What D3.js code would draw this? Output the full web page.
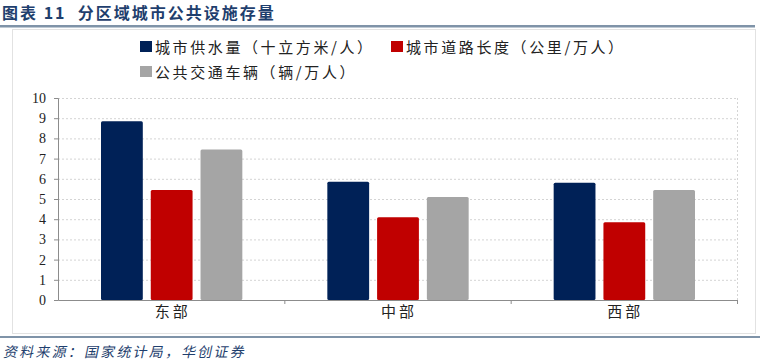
<!DOCTYPE html>
<html>
<head>
<meta charset="utf-8">
<script src="https://cdn.jsdelivr.net/npm/d3@7"></script>
<style>
body { margin: 0; background: #fff; }
svg { display: block; }
text { white-space: pre; }
</style>
</head>
<body>
<svg width="760" height="363"></svg>
<script>
const categories = ['东部', '中部', '西部'];
const seriesNames = ['城市供水量（十立方米/人）', '城市道路长度（公里/万人）', '公共交通车辆（辆/万人）'];
const water = [8.85, 5.85, 5.8];
const roads = [5.45, 4.1, 3.85];
const buses = [7.45, 5.1, 5.45];
const yTicks = [0, 1, 2, 3, 4, 5, 6, 7, 8, 9, 10];
const colors = ['#002157', '#c00000', '#a5a5a5'];

const series = [water, roads, buses];
const cjk = '"Noto Sans CJK SC", sans-serif';
const serif = '"Liberation Serif", "DejaVu Serif", serif';

const svg = d3.select('svg');

// title
svg.append('text')
	.attr('x', 2).attr('y', 19)
	.attr('font-family', cjk).attr('font-weight', 'bold')
	.attr('font-size', 16).attr('letter-spacing', 2).attr('fill', '#1f3f6e')
	.text('图表 11  分区域城市公共设施存量');
svg.append('rect').attr('x', 0).attr('y', 25).attr('width', 755).attr('height', 2.5).attr('fill', '#7f93a8');

// panel frame
svg.append('rect')
	.attr('x', 12.5).attr('y', 29.5).attr('width', 743).attr('height', 304)
	.attr('fill', 'none').attr('stroke', '#e2e2e2');

// footer
svg.append('rect').attr('x', 0).attr('y', 336).attr('width', 760).attr('height', 2).attr('fill', '#7f93a8');
svg.append('text')
	.attr('x', 3).attr('y', 357)
	.attr('font-family', cjk)
	.attr('font-size', 14).attr('letter-spacing', 2.2).attr('fill', '#1f3f6e')
	.attr('transform', 'skewX(-12) translate(76,0)')
	.text('资料来源：国家统计局，华创证券');

const margin = { left: 58, right: 23, top: 98, bottom: 63 };
const width = 760 - margin.left - margin.right;
const height = 363 - margin.top - margin.bottom;

const g = svg.append('g').attr('transform', 'translate(' + margin.left + ',' + margin.top + ')');

const x = d3.scaleBand().domain(categories).range([0, width]);
const x1 = d3.scaleBand().domain(d3.range(series.length)).range([43, x.bandwidth() - 42]).paddingInner(0.16);
const y = d3.scaleLinear().domain([0, 10]).range([height, 0]);

// gridlines
g.selectAll('.grid').data(yTicks.filter(d => d > 0)).enter().append('line')
	.attr('x1', 0).attr('x2', width)
	.attr('y1', d => y(d) + 0.5).attr('y2', d => y(d) + 0.5)
	.attr('stroke', '#d4d4d4').attr('stroke-dasharray', '2,2');
g.append('line')
	.attr('x1', width + 0.5).attr('x2', width + 0.5)
	.attr('y1', 0).attr('y2', height)
	.attr('stroke', '#d4d4d4').attr('stroke-dasharray', '2,2');

// bars
categories.forEach((c, i) => {
	series.forEach((s, j) => {
		g.append('rect')
			.attr('x', x(c) + x1(j))
			.attr('y', y(s[i]))
			.attr('width', x1.bandwidth())
			.attr('height', height - y(s[i]))
			.attr('rx', 1.5)
			.attr('fill', colors[j]);
	});
});

// y axis
const yAxis = g.append('g')
	.call(d3.axisLeft(y).tickValues(yTicks).tickSize(4).tickFormat(d3.format('d')));
yAxis.select('.domain').attr('stroke', '#8c8c8c');
yAxis.selectAll('.tick line').attr('stroke', '#8c8c8c');
yAxis.selectAll('text').attr('font-family', serif).attr('font-size', 14).attr('fill', '#222').attr('dx', -5);

// x axis
const xAxis = g.append('g').attr('transform', 'translate(0,' + height + ')')
	.call(d3.axisBottom(x).tickSize(0));
xAxis.select('.domain').attr('stroke', '#8c8c8c');
xAxis.selectAll('text').attr('font-family', cjk).attr('font-size', 15)
	.attr('letter-spacing', 3).attr('fill', '#222').attr('dy', 14).attr('dx', 1.5);
g.selectAll('.xtick').data(categories).enter().append('line')
	.attr('x1', d => x(d) + x.bandwidth() + 0.5).attr('x2', d => x(d) + x.bandwidth() + 0.5)
	.attr('y1', height).attr('y2', height + 4)
	.attr('stroke', '#8c8c8c');

// legend
const legendPos = [[140, 47], [391, 47], [140, 72]];
seriesNames.forEach((name, j) => {
	const lg = svg.append('g').attr('transform', 'translate(' + legendPos[j][0] + ',' + legendPos[j][1] + ')');
	lg.append('rect').attr('x', 0).attr('y', -6).attr('width', 12).attr('height', 11).attr('fill', colors[j]);
	lg.append('text').attr('x', 15).attr('y', 6)
		.attr('font-family', cjk).attr('font-size', 15).attr('letter-spacing', 2.6).attr('fill', '#222')
		.text(name);
});
</script>
</body>
</html>
